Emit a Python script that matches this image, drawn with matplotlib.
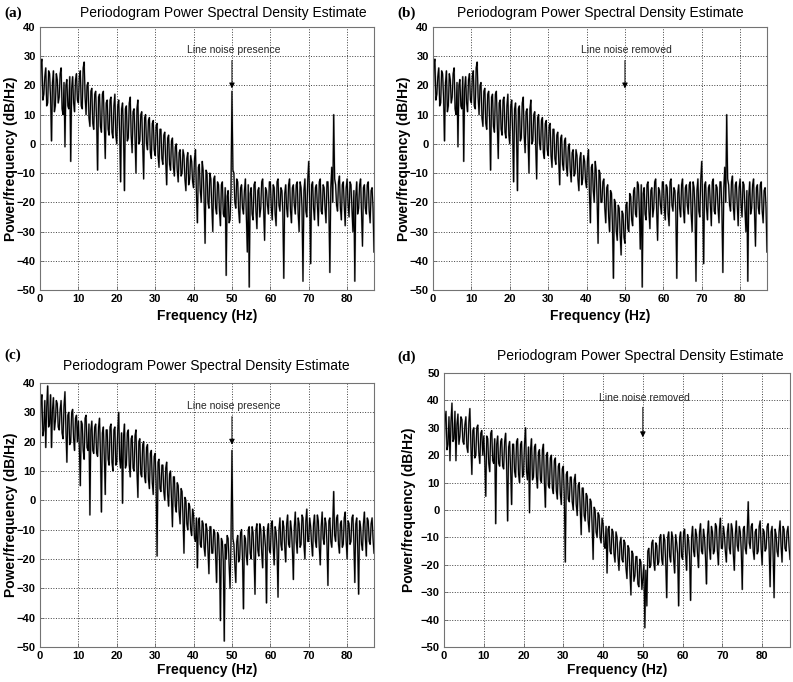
import matplotlib
matplotlib.use("Agg")
import matplotlib.pyplot as plt
import numpy as np

plt.rcParams['font.family'] = ['Liberation Sans', 'DejaVu Sans']

# frequency axis, 0.25 Hz bins up to Fs/2
freq = np.arange(0, 87.01, 0.25)

# (a) raw signal, line noise present (dB/Hz), one row = 2.5 Hz
psd_a = [12, 27, 29, 15, 17, 23, 26, 13, 14, 25,
         24, 16, 1, 21, 25, 11, 13, 24, 22, 14,
         16, 24, 26, 12, 10, 21, -1, 20, 22, 13,
         12, 23, -6, 19, 23, 14, 11, 22, 24, 15,
         14, 23, 25, 13, 12, 26, 28, 16, 10, 20,
         21, 9, 6, 18, 19, 7, 5, 17, 18, 8,
         -9, 16, 17, 6, 4, 17, 18, 7, -5, 14,
         15, 5, 3, 15, 16, 4, 2, 13, 17, 3,
         0, 13, 15, 4, -13, 12, 14, 3, -16, 12,
         13, 1, 2, 14, 16, 3, -3, 11, 12, 2,
         -10, 12, 15, 0, 1, 10, 11, -1, -12, 9,
         10, 0, -2, 8, 9, -3, -5, 7, 8, -2,
         -4, 6, 7, -4, -8, 5, 5, -5, -7, 3,
         4, -6, -14, 2, 3, -7, -9, 1, 2, -8,
         -11, -1, 0, -9, -13, -3, -2, -11, -10, -2,
         -4, -12, -16, -5, -3, -14, -12, -4, -6, -13,
         -15, -5, -2, -17, -27, -8, -7, -16, -20, -6,
         -9, -19, -34, -9, -10, -20, -22, -10, -12, -21,
         -30, -12, -11, -22, -24, -13, -14, -23, -28, -14,
         -13, -24, -25, -15, -45, -18, -16, -27, -26, -16,
         18, -9, -10, -20, -22, -12, -13, -23, -27, -15,
         -14, -22, -24, -16, -12, -25, -37, -14, -49, -17,
         -15, -24, -26, -14, -13, -23, -29, -16, -15, -25,
         -22, -13, -12, -22, -33, -15, -16, -21, -24, -13,
         -13, -22, -26, -14, -15, -24, -28, -13, -12, -21,
         -23, -15, -16, -23, -46, -17, -14, -22, -25, -14,
         -12, -23, -27, -15, -14, -21, -24, -14, -13, -24,
         -30, -13, -15, -22, -47, -16, -12, -23, -25, -12,
         -6, -20, -41, -14, -13, -22, -26, -15, -14, -21,
         -28, -13, -12, -23, -24, -14, -15, -22, -27, -13,
         -13, -22, -44, -15, -8, -20, 10, -12, -14, -21,
         -23, -13, -11, -22, -26, -14, -13, -21, -28, -15,
         -12, -21, -25, -13, -14, -22, -30, -16, -47, -18,
         -13, -24, -22, -14, -12, -23, -35, -15, -14, -22,
         -24, -14, -13, -23, -27, -16, -15, -22, -37]

# (b) after line-noise removal: bins 44-54 Hz differ from (a)
seg_b = [-20, -13, -12, -22, -27, -15, -14, -25, -30, -16,
         -17, -28, -46, -19, -20, -30, -33, -21, -22, -31,
         -38, -23, -24, -32, -34, -21, -20, -29, -30, -17,
         -18, -26, -28, -16, -15, -24, -25, -13, -14, -23,
         -36]

# (c) second recording, line noise present
psd_c = [20, 33, 36, 22, 24, 34, 18, 32, 39, 25,
         26, 36, 18, 31, 35, 24, 27, 34, 33, 25,
         24, 31, 34, 23, 21, 32, 37, 24, 13, 29,
         30, 19, 20, 30, 31, 21, 17, 28, 29, 20,
         27, 18, 5, 27, 26, 17, 14, 28, 29, 18,
         17, 26, -5, 24, 27, 17, 16, 25, 26, 16,
         15, 25, 28, 16, -4, 23, 25, 15, 2, 24,
         24, 14, 12, 25, 26, 13, 10, 24, 25, 12,
         13, 24, 30, 14, 11, 23, -1, 22, 26, 11,
         12, 23, 24, 12, 8, 21, 22, 11, 10, 22,
         24, 10, 1, 20, 21, 9, 8, 19, 20, 8,
         6, 18, 19, 7, 4, 16, 17, 6, 2, 15,
         16, 5, -19, 13, 14, 4, 3, 12, 12, 3,
         0, 11, 13, 2, -2, 9, 10, 1, -9, 8,
         8, -2, -4, 6, 5, -4, -8, 4, 3, -6,
         -18, 1, 0, -8, -10, -1, -2, -10, -12, -3,
         -5, -13, -14, -6, -23, -7, -6, -15, -16, -7,
         -8, -16, -19, -8, -10, -17, -25, -9, -9, -18,
         -18, -10, -11, -19, -28, -11, -12, -20, -41, -13,
         -14, -21, -48, -15, -20, -12, -13, -22, -30, -14,
         17, -13, -15, -22, -28, -14, -12, -21, -20, -11,
         -10, -20, -37, -12, -13, -19, -22, -10, -9, -18,
         -20, -9, -11, -19, -32, -10, -8, -17, -19, -8,
         -10, -18, -23, -9, -12, -16, -35, -10, -8, -17,
         -18, -8, -7, -16, -22, -9, -11, -17, -33, -10,
         -6, -15, -17, -7, -9, -16, -21, -8, -5, -15,
         -16, -7, -10, -17, -27, -9, -4, -14, -18, -6,
         -8, -16, -15, -5, -6, -15, -20, -7, -3, -14,
         -14, -6, -9, -15, -19, -8, -5, -14, -16, -5,
         -7, -16, -22, -9, -4, -13, -15, -6, -8, -15,
         -29, -7, -6, -14, -16, -8, 3, -12, -14, -6,
         -5, -15, -18, -8, -7, -16, -15, -6, -4, -14,
         -20, -7, -8, -15, -14, -6, -5, -14, -28, -8,
         -6, -16, -32, -7, -9, -15, -17, -8, -4, -13,
         -19, -6, -7, -14, -15, -8, -6, -13, -18]

# (d) after line-noise removal: bins 44-54 Hz differ from (c)
seg_d = [-22, -12, -10, -18, -19, -11, -12, -21, -25, -13,
         -14, -23, -31, -15, -16, -26, -24, -17, -17, -27,
         -28, -18, -19, -29, -25, -20, -43, -22, -35, -15,
         -14, -21, -20, -12, -11, -19, -22, -12, -13, -20,
         -19]

seg_start = 176  # bin of 44 Hz
psd_b = list(psd_a)
psd_b[seg_start:seg_start + len(seg_b)] = seg_b
psd_d = list(psd_c)
psd_d[seg_start:seg_start + len(seg_d)] = seg_d

W, H = 793, 682
fig = plt.figure(figsize=(W / 100, H / 100), dpi=100)


def px(x0, y0, x1, y1):
    return [x0 / W, 1 - y1 / H, (x1 - x0) / W, (y1 - y0) / H]


panels = [
    # data, ylim, axes box, letter, note, note y, arrow tip, title x, title y, letter pos, ylabel x, xlabel y
    (psd_a, (-50, 40), px(40, 27, 374, 290), '(a)', 'Line noise presence', 32, 18, 223, 13, (4, 13), 11, 316),
    (psd_b, (-50, 40), px(433, 27, 767, 290), '(b)', 'Line noise removed', 32, 18, 600, 13, (397, 13), 404, 316),
    (psd_c, (-50, 40), px(40, 383, 374, 647), '(c)', 'Line noise presence', 32, 18, 206, 366, (4, 355), 11, 670),
    (psd_d, (-50, 50), px(444, 373, 790, 647), '(d)', 'Line noise removed', 41, 25.5, 640, 356, (397, 357), 409, 670),
]

for data, ylim, box, letter, note, ny, tip, tx, ty, lpos, ylx, xly in panels:
    ax = fig.add_axes(box)
    ax.plot(freq, data, color='0.55', lw=1.4, alpha=0.6)
    ax.plot(freq, data, color='black', lw=0.85)
    ax.set_xlim(0, 87)
    ax.set_ylim(*ylim)
    ax.set_xticks(np.arange(0, 81, 10))
    ax.set_yticks(np.arange(ylim[0], ylim[1] + 1, 10))
    ax.grid(True, linestyle=':', color='0.25', linewidth=0.7)
    ax.tick_params(direction='in', length=3, width=0.6, color='0.4', labelsize=8, pad=3)
    for lab in ax.get_xticklabels() + ax.get_yticklabels():
        lab.set_fontweight('bold')
    for s in ax.spines.values():
        s.set_color('0.45')
        s.set_linewidth(0.8)
    ax.annotate('', xy=(50, tip), xytext=(50, ny - 2.5),
                arrowprops=dict(arrowstyle='-|>', color='black', lw=0.7, mutation_scale=8))
    ax.text(50.5, ny, note, ha='center', va='center', fontsize=7.5, color='0.15')

    fig.text(tx / W, 1 - ty / H, 'Periodogram Power Spectral Density Estimate',
             ha='center', va='center', fontsize=10)
    fig.text(lpos[0] / W, 1 - lpos[1] / H, letter, ha='left', va='center',
             fontsize=11, fontweight='bold', family='Liberation Serif')
    fig.text(ylx / W, box[1] + box[3] / 2, 'Power/frequency (dB/Hz)',
             rotation=90, ha='center', va='center', fontsize=10, fontweight='bold')
    fig.text(box[0] + box[2] / 2, 1 - xly / H, 'Frequency (Hz)',
             ha='center', va='center', fontsize=10, fontweight='bold')

fig.savefig('out.png', dpi=100)
